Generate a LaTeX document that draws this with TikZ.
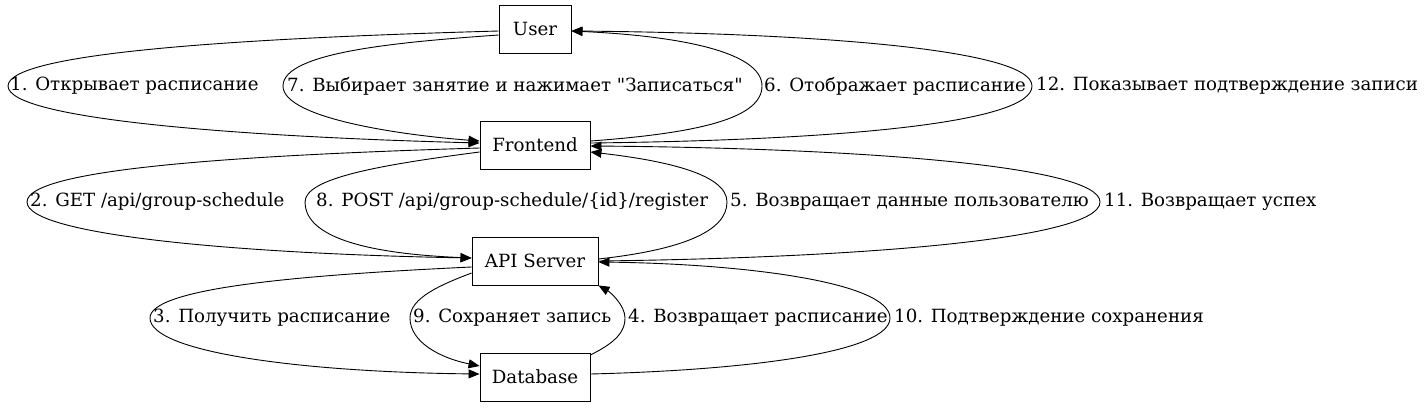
\documentclass[tikz,border=0pt]{standalone}
\usepackage{fontspec}
\setmainfont{DejaVu Serif}[Ligatures=TeXOff]
\usetikzlibrary{arrows.meta}
\tikzset{
  box/.style={draw, line width=0.9pt, minimum height=48pt, inner sep=0pt, font=\fontsize{18.2}{22}\selectfont},
  lbl/.style={anchor=west, inner sep=0pt, font=\fontsize{18.2}{22}\selectfont},
  edge/.style={line width=0.9pt, -{Triangle[length=11pt,width=9pt]}}
}
\begin{document}
\begin{tikzpicture}[x=1pt,y=-1pt]
\useasboundingbox (0,0) rectangle (1426,407);
\node[box, minimum width=72pt] (U) at (535,29) {User};
\node[box, minimum width=110pt] (F) at (535,145) {Frontend};
\node[box, minimum width=126pt] (A) at (535,261) {API Server};
\node[box, minimum width=110pt] (D) at (535,377) {Database};

% User -> Frontend
\draw[edge] ([yshift=-2pt]U.west) .. controls (250,38) and (8,52) .. (8,86) .. controls (8,120) and (250,137) .. ([yshift=2pt]F.west);
\draw[edge] ([yshift=-6pt]U.west) .. controls (400,42) and (283,52) .. (283,86) .. controls (283,118) and (400,135) .. ([yshift=4pt]F.west);
\draw[edge] ([yshift=4pt]F.east) .. controls (700,133) and (762,118) .. (762,86) .. controls (762,52) and (680,36) .. ([yshift=-2pt]U.east);
\draw[edge] ([yshift=2pt]F.east) .. controls (850,140) and (1032,122) .. (1032,86) .. controls (1032,48) and (800,33) .. ([yshift=-2pt]U.east);

% Frontend -> API
\draw[edge] ([yshift=-3pt]F.west) .. controls (250,155) and (27,168) .. (27,202) .. controls (27,236) and (250,254) .. ([yshift=3pt]A.west);
\draw[edge] ([yshift=-7pt]F.west) .. controls (380,165) and (305,178) .. (305,202) .. controls (305,232) and (350,253) .. ([yshift=3pt]A.west);
\draw[edge] ([yshift=2pt]A.east) .. controls (680,250) and (727,232) .. (727,202) .. controls (727,173) and (660,160) .. ([yshift=-7pt]F.east);
\draw[edge] (A.east) .. controls (850,258) and (1100,240) .. (1100,202) .. controls (1100,165) and (850,148) .. ([yshift=-1pt]F.east);

% API -> Database
\draw[edge] ([yshift=-6pt]A.west) .. controls (300,275) and (150,288) .. (150,318) .. controls (150,352) and (300,372) .. ([yshift=3pt]D.west);
\draw[edge] ([yshift=-12pt]A.west) .. controls (440,285) and (410,298) .. (410,318) .. controls (410,342) and (440,358) .. ([yshift=11pt]D.west);
\draw[edge] ([yshift=22pt]D.east) .. controls (610,345) and (625,335) .. (625,318) .. controls (625,305) and (610,292) .. (A.south east);
\draw[edge] ([yshift=3pt]D.east) .. controls (750,370) and (890,352) .. (890,318) .. controls (890,283) and (750,264) .. ([yshift=-1pt]A.east);

% labels
\node[lbl] (l1) at (10,86) {1. Открывает расписание};
\node[lbl] (l7) at (287,86) {7. Выбирает занятие и нажимает "Записаться"};
\node[lbl] (l6) at (764,86) {6. Отображает расписание};
\node[lbl] (l12) at (1036,86) {12. Показывает подтверждение записи};
\node[lbl] (l2) at (30,202) {2. GET /api/group-schedule};
\node[lbl] (l8) at (316,202) {8. POST /api/group-schedule/\{id\}/register};
\node[lbl] (l5) at (730,202) {5. Возвращает данные пользователю};
\node[lbl] (l11) at (1104,202) {11. Возвращает успех};
\node[lbl] (l3) at (153,318) {3. Получить расписание};
\node[lbl] (l9) at (413,318) {9. Сохраняет запись};
\node[lbl] (l4) at (628,318) {4. Возвращает расписание};
\node[lbl] (l10) at (894,318) {10. Подтверждение сохранения};
\end{tikzpicture}
\end{document}
